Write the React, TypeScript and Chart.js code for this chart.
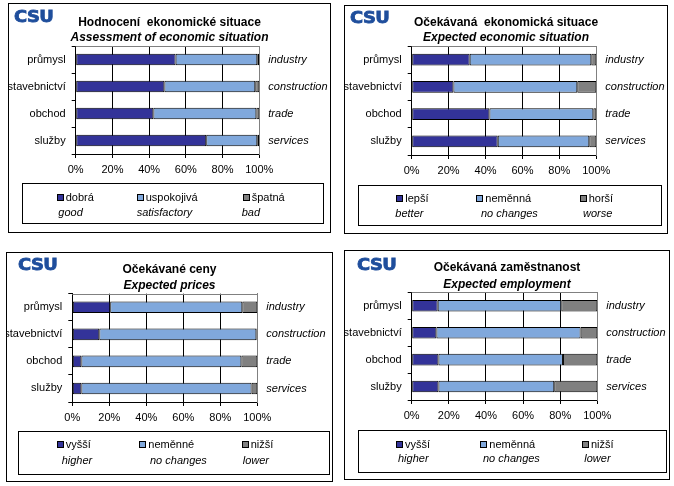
import React, { useEffect, useRef } from 'react';
import { Chart, registerables } from 'chart.js';

Chart.register(...registerables);

// ---------- data ----------
const sectorsCz = ['průmysl', 'stavebnictví', 'obchod', 'služby'];
const sectorsEn = ['industry', 'construction', 'trade', 'services'];

const assessGood = [54.4, 48.3, 42.3, 71.1];
const assessSatisfactory = [44.5, 49.5, 56.1, 27.8];
const assessBad = [1.1, 2.2, 1.6, 1.1];

const econBetter = [31.4, 22.6, 42.1, 46.6];
const econNoChange = [65.9, 67.1, 56.3, 49.6];
const econWorse = [2.7, 10.3, 1.6, 3.8];

const pricesHigher = [20.5, 14.6, 4.9, 4.9];
const pricesNoChange = [71.4, 84.9, 86.5, 92.0];
const pricesLower = [8.1, 0.5, 8.6, 3.1];

const emplHigher = [14.0, 13.3, 14.4, 14.4];
const emplNoChange = [66.6, 77.7, 67.1, 62.4];
const emplLower = [19.4, 9.0, 18.5, 23.2];

const legendCz1 = ['dobrá', 'uspokojivá', 'špatná'];
const legendEn1 = ['good', 'satisfactory', 'bad'];
const legendCz2 = ['lepší', 'neměnná', 'horší'];
const legendEn2 = ['better', 'no changes', 'worse'];
const legendCz3 = ['vyšší', 'neměnné', 'nižší'];
const legendEn3 = ['higher', 'no changes', 'lower'];
const legendCz4 = ['vyšší', 'neměnná', 'nižší'];
const legendEn4 = ['higher', 'no changes', 'lower'];

const xTickStep = 20;
const xMax = 100;

// ---------- styles ----------
const FONT = 'Liberation Sans, Arial, sans-serif';
const COLORS = ['#333399', '#80A8DC', '#808080'];
const GRID = '#000000';

type Rect = { l: number; t: number; r: number; b: number };
type PanelSpec = {
  title: string;
  subtitle: string;
  series: number[][];
  cz: string[];
  en: string[];
  outer: Rect;
  plot: Rect;
  titleY: number;
  subY: number;
  legend: Rect;
  sq: number[];
  enX: number[];
  rows: number[];
  logo: { x: number; y: number };
};

const panels: PanelSpec[] = [
  {
    title: 'Hodnocení  ekonomické situace',
    subtitle: 'Assessment of economic situation',
    series: [assessGood, assessSatisfactory, assessBad],
    cz: legendCz1,
    en: legendEn1,
    outer: { l: 8, t: 3, r: 331, b: 233 },
    plot: { l: 75.7, t: 46, r: 259.3, b: 154 },
    titleY: 21,
    subY: 36,
    legend: { l: 22, t: 183, r: 324, b: 224 },
    sq: [34.7, 114.7, 220.7],
    enX: [36.3, 114.7, 219.7],
    rows: [14.6, 29.3],
    logo: { x: 14, y: 11.7 },
  },
  {
    title: 'Očekávaná  ekonomická situace',
    subtitle: 'Expected economic situation',
    series: [econBetter, econNoChange, econWorse],
    cz: legendCz2,
    en: legendEn2,
    outer: { l: 344, t: 5, r: 668, b: 234 },
    plot: { l: 411.7, t: 46, r: 596.3, b: 154.7 },
    titleY: 20.7,
    subY: 36,
    legend: { l: 357.7, t: 185, r: 662, b: 226 },
    sq: [38.6, 118.6, 222],
    enX: [37.6, 123.3, 225.3],
    rows: [13.3, 28.3],
    logo: { x: 350.3, y: 13.3 },
  },
  {
    title: 'Očekávané ceny',
    subtitle: 'Expected prices',
    series: [pricesHigher, pricesNoChange, pricesLower],
    cz: legendCz3,
    en: legendEn3,
    outer: { l: 6, t: 252, r: 333, b: 482 },
    plot: { l: 72.3, t: 293.7, r: 257.3, b: 402.3 },
    titleY: 268,
    subY: 283.7,
    legend: { l: 18.3, t: 431.3, r: 330, b: 475.3 },
    sq: [38.4, 121, 223.4],
    enX: [43.4, 131.7, 224.4],
    rows: [13.7, 29],
    logo: { x: 18.3, y: 259.7 },
  },
  {
    title: 'Očekávaná zaměstnanost',
    subtitle: 'Expected employment',
    series: [emplHigher, emplNoChange, emplLower],
    cz: legendCz4,
    en: legendEn4,
    outer: { l: 344, t: 250, r: 670, b: 480 },
    plot: { l: 411.7, t: 292.3, r: 597.3, b: 399.7 },
    titleY: 266.3,
    subY: 283,
    legend: { l: 357.7, t: 429.7, r: 667, b: 473 },
    sq: [38.3, 122.6, 224.3],
    enX: [40.3, 125.3, 226.6],
    rows: [15, 29.3],
    logo: { x: 357, y: 259.7 },
  },
];

const frameTop = {
  id: 'frameTop',
  beforeDatasetsDraw(chart: any) {
    const { ctx, chartArea: a } = chart;
    ctx.save();
    ctx.strokeStyle = '#808080';
    ctx.lineWidth = 1;
    ctx.beginPath();
    const y = Math.round(a.top) + 0.5;
    ctx.moveTo(a.left, y);
    ctx.lineTo(a.right, y);
    ctx.stroke();
    ctx.restore();
  },
};

const X_AXIS_H = 30;
const LH = 14.4;
const TEXT_SHIFT = 1.5;

function PanelChart({ spec }: { spec: PanelSpec }) {
  const ref = useRef<HTMLCanvasElement>(null);
  const cl = spec.outer.l + 1;
  const ct = spec.outer.t + 1;
  const cw = spec.outer.r - spec.outer.l - 2;
  const ch = Math.round(spec.plot.b - ct + X_AXIS_H);
  const leftW = spec.plot.l - cl;
  const rightW = cl + cw - spec.plot.r;
  const tc = spec.titleY - ct + TEXT_SHIFT;
  const sc = spec.subY - ct + TEXT_SHIFT;
  const pt = spec.plot.t - ct;

  useEffect(() => {
    if (!ref.current) return;
    const font = { family: FONT, size: 11 };
    const chart = new Chart(ref.current, {
      type: 'bar',
      data: {
        labels: sectorsCz,
        datasets: spec.series.map((vals, i) => ({
          label: spec.cz[i],
          data: vals,
          backgroundColor: COLORS[i],
          borderColor: '#000',
          borderWidth: 1,
          borderSkipped: false,
          barPercentage: 0.43,
          categoryPercentage: 1,
        })),
      },
      options: {
        indexAxis: 'y',
        animation: false,
        responsive: false,
        layout: { padding: 0 },
        plugins: {
          legend: { display: false },
          tooltip: { enabled: false },
          title: {
            display: true,
            text: spec.title,
            color: '#000',
            font: { family: FONT, size: 12, weight: 'bold' },
            padding: { top: tc - LH / 2, bottom: 0 },
          },
          subtitle: {
            display: true,
            text: spec.subtitle,
            color: '#000',
            font: { family: FONT, size: 12, weight: 'bold', style: 'italic' },
            padding: { top: Math.max(0, sc - LH / 2 - (tc + LH / 2)), bottom: Math.max(0, pt - (sc + LH / 2)) },
          },
        },
        scales: {
          x: {
            min: 0,
            max: xMax,
            stacked: true,
            ticks: {
              stepSize: xTickStep,
              callback: (v: any) => v + '%',
              font,
              color: '#000',
              padding: 5,
              maxRotation: 0,
            },
            grid: {
              color: (c: any) => (c.index === 5 ? '#808080' : GRID),
              tickColor: '#000',
              tickLength: 4,
              lineWidth: 1,
            },
            border: { color: '#000', width: 1 },
            afterFit: (s: any) => {
              s.height = X_AXIS_H;
            },
          },
          y: {
            stacked: true,
            ticks: { font, color: '#000', padding: 6 },
            grid: { offset: true, drawOnChartArea: false, color: '#000', tickLength: 4 },
            border: { color: '#000', width: 1 },
            afterFit: (s: any) => {
              s.width = leftW;
            },
          },
          y2: {
            type: 'category',
            labels: sectorsEn,
            position: 'right',
            offset: true,
            ticks: { font: { ...font, style: 'italic' }, color: '#000', padding: 9 },
            grid: { drawOnChartArea: false, drawTicks: false },
            border: { color: '#808080', width: 1 },
            afterFit: (s: any) => {
              s.width = rightW;
            },
          },
        },
      } as any,
      plugins: [frameTop],
    });
    return () => chart.destroy();
  }, []);

  const lg = spec.legend;
  return (
    <>
      <div
        style={{
          position: 'absolute',
          left: spec.outer.l,
          top: spec.outer.t,
          width: spec.outer.r - spec.outer.l,
          height: spec.outer.b - spec.outer.t,
          border: '1px solid #000',
          boxSizing: 'border-box',
          background: '#fff',
        }}
      />
      <canvas ref={ref} width={cw} height={ch} style={{ position: 'absolute', left: cl, top: ct }} />
      <div
        style={{
          position: 'absolute',
          left: spec.logo.x,
          top: spec.logo.y - 3,
          fontFamily: 'DejaVu Sans, sans-serif',
          fontWeight: 'bold',
          fontSize: 16,
          lineHeight: '16px',
          color: '#1F4E9C',
          WebkitTextStroke: '0.8px #1F4E9C',
          transform: 'scaleX(1.12)',
          transformOrigin: 'left top',
          whiteSpace: 'nowrap',
          letterSpacing: '-0.5px',
        }}
      >
        CSU
      </div>
      <div
        style={{
          position: 'absolute',
          left: lg.l,
          top: lg.t,
          width: lg.r - lg.l,
          height: lg.b - lg.t,
          border: '1px solid #000',
          boxSizing: 'border-box',
          fontFamily: FONT,
          fontSize: 11,
          color: '#000',
        }}
      >
        {spec.cz.map((name, i) => (
          <React.Fragment key={i}>
            <div
              style={{
                position: 'absolute',
                left: spec.sq[i] - 1,
                top: spec.rows[0] - 3.5 - 1,
                width: 7,
                height: 7,
                background: COLORS[i],
                border: '1px solid #000',
                boxSizing: 'border-box',
              }}
            />
            <div
              style={{
                position: 'absolute',
                left: spec.sq[i] + 8,
                top: spec.rows[0] - 6.5 - 1,
                lineHeight: '13px',
                whiteSpace: 'nowrap',
              }}
            >
              {name}
            </div>
            <div
              style={{
                position: 'absolute',
                left: spec.enX[i] - 1,
                top: spec.rows[1] - 6.5 - 1,
                lineHeight: '13px',
                fontStyle: 'italic',
                whiteSpace: 'nowrap',
              }}
            >
              {spec.en[i]}
            </div>
          </React.Fragment>
        ))}
      </div>
    </>
  );
}

export default function App() {
  return (
    <div style={{ position: 'absolute', left: 0, top: 0, width: 674, height: 486, background: '#fff', fontFamily: FONT }}>
      {panels.map((p, i) => (
        <PanelChart key={i} spec={p} />
      ))}
    </div>
  );
}
